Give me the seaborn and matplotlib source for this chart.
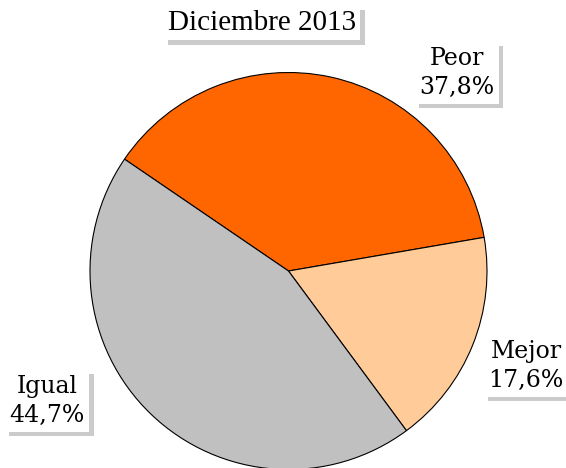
import matplotlib
matplotlib.use("Agg")
import matplotlib.pyplot as plt
import matplotlib.patheffects as pe
import seaborn as sns

# datos de la encuesta, diciembre 2013
categorias = ["Peor", "Mejor", "Igual"]
porcentajes = [37.8, 17.6, 44.7]
colores = ["#FF6600", "#FFCC99", "#C0C0C0"]
titulo = "Diciembre 2013"

sns.set_theme(style="white")
plt.rcParams['font.family'] = ['DejaVu Serif']
plt.rcParams['text.color'] = 'black'

fig = plt.figure(figsize=(5.66, 4.68), dpi=100)
ax = fig.add_axes([0, 0, 1, 1])

ax.pie(porcentajes, colors=colores, startangle=145.7, counterclock=False,
       center=(288.5, 197), radius=198.5,
       wedgeprops=dict(edgecolor="black", linewidth=0.8))
ax.set_xlim(0, 566)
ax.set_ylim(0, 468)
ax.set_aspect("equal")
ax.axis("off")

sombra = [pe.SimplePatchShadow(offset=(3, -3), shadow_rgbFace="#999999", alpha=0.5), pe.Normal()]

# posiciones de las etiquetas (px desde arriba)
pos_etiquetas = {"Peor": (457, 73), "Mejor": (526, 366), "Igual": (47, 401)}

for cat, val in zip(categorias, porcentajes):
    x, y = pos_etiquetas[cat]
    t = ax.text(x, 468 - y, f"{cat}\n{val:.1f}%".replace(".", ","),
                ha="center", va="center", fontsize=17, linespacing=1.35,
                bbox=dict(boxstyle="square,pad=0.2", fc="white", ec="none"))
    t.get_bbox_patch().set_path_effects(sombra)

tt = ax.text(262, 468 - 23, titulo, ha="center", va="center", fontsize=21,
             family="Liberation Serif",
             bbox=dict(boxstyle="square,pad=0.15", fc="white", ec="none"))
tt.get_bbox_patch().set_path_effects(sombra)

fig.savefig("out.png", dpi=100)
